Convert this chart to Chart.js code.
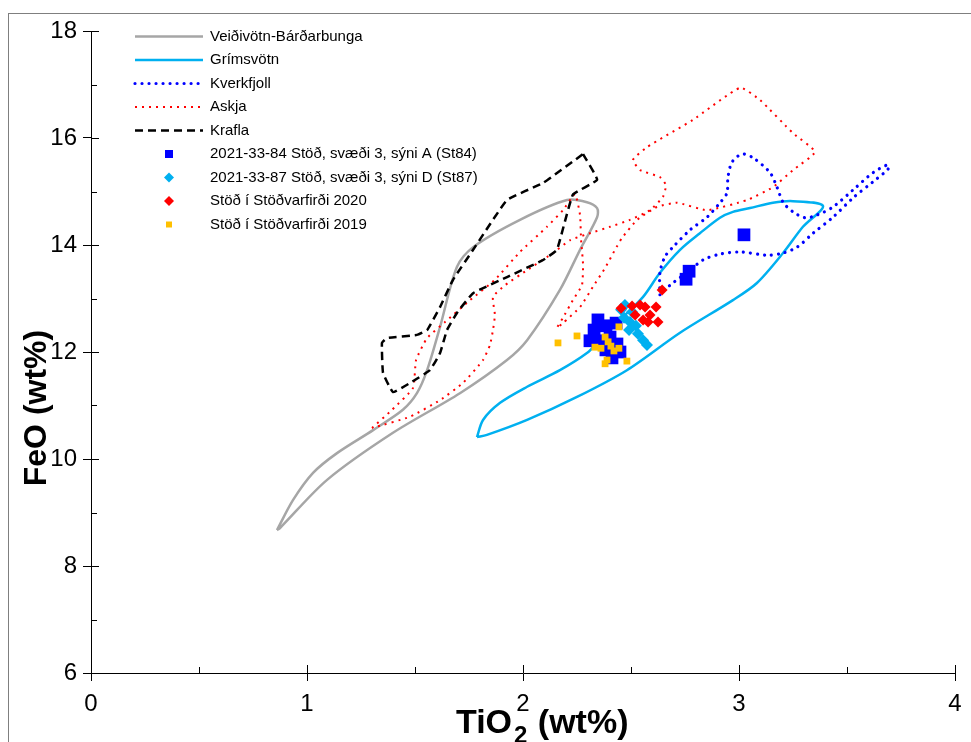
<!DOCTYPE html>
<html>
<head>
<meta charset="utf-8">
<script src="https://cdn.jsdelivr.net/npm/chart.js@4.4.0/dist/chart.umd.min.js"></script>
<style>
body{margin:0;background:#fff;}
#wrap{width:971px;height:742px;overflow:hidden;}
</style>
</head>
<body>
<div id="wrap"><canvas id="chart" width="971" height="742"></canvas></div>
<script>
// outlines of the volcanic systems (TiO2, FeO)
const veidiX = [0.861,0.935,1.028,1.139,1.306,1.444,1.509,1.556,1.616,1.694,1.769,1.986,2.204,2.296,2.343,2.343,2.264,2.171,2.019,1.926,1.708,1.398,1.093,0.875,0.861];
const veidiY = [8.67,9.23,9.74,10.11,10.54,10.92,11.23,11.66,12.47,13.59,13.96,14.47,14.84,14.80,14.69,14.52,13.91,13.16,12.22,11.85,11.23,10.49,9.61,8.71,8.67];

const grimsX = [1.787,1.833,2.019,2.250,2.481,2.727,2.972,3.083,3.204,3.296,3.389,3.250,3.157,3.051,2.972,2.912,2.819,2.727,2.634,2.556,2.449,2.356,2.296,2.171,2.019,1.894,1.815,1.787];
const grimsY = [10.41,10.45,10.73,11.16,11.66,12.36,12.97,13.29,13.85,14.34,14.73,14.82,14.79,14.69,14.62,14.51,14.22,13.91,13.48,13.03,12.60,12.22,11.98,11.66,11.35,11.05,10.73,10.41];

const kverkX = [2.634,2.634,2.657,2.694,2.773,2.852,2.912,2.944,2.949,2.968,3.014,3.065,3.144,3.176,3.204,3.250,3.306,3.361,3.435,3.528,3.620,3.690,3.690,3.620,3.528,3.435,3.343,3.269,3.204,3.130,3.005,2.912,2.833,2.773,2.694,2.634];
const kverkY = [13.07,13.48,13.78,13.96,14.28,14.52,14.79,14.97,15.27,15.55,15.70,15.63,15.35,15.08,14.80,14.62,14.51,14.56,14.71,15.03,15.35,15.50,15.42,15.18,14.88,14.52,14.22,13.96,13.85,13.81,13.87,13.83,13.72,13.53,13.29,13.10];

const askjaX = [1.301,1.394,1.491,1.505,1.556,1.639,1.755,1.870,1.986,2.111,2.185,2.241,2.264,2.269,2.278,2.273,2.231,2.185,2.157,2.185,2.264,2.324,2.380,2.426,2.458,2.528,2.620,2.713,2.852,3.037,3.157,3.250,3.352,3.250,3.097,3.005,2.787,2.574,2.509,2.542,2.634,2.662,2.648,2.588,2.495,2.403,2.310,2.218,2.139,2.019,1.917,1.861,1.870,1.861,1.847,1.815,1.722,1.616,1.477,1.301];
const askjaY = [10.58,10.92,11.33,11.85,12.26,12.56,12.97,13.35,13.87,14.34,14.65,14.95,14.56,14.09,13.63,13.25,12.97,12.64,12.45,12.54,12.84,13.22,13.57,13.91,14.13,14.47,14.71,14.79,14.65,14.84,15.08,15.40,15.74,16.09,16.71,16.94,16.34,15.83,15.59,15.40,15.27,15.12,14.90,14.65,14.47,14.34,14.22,14.09,13.85,13.53,13.25,13.03,12.69,12.41,12.13,11.85,11.42,11.10,10.79,10.58];

const kraflaX = [2.278,2.343,2.231,2.157,2.093,1.926,1.769,1.694,1.648,1.616,1.569,1.477,1.398,1.352,1.347,1.370,1.509,1.556,1.616,1.676,1.769,1.926,2.093,2.278];
const kraflaY = [15.70,15.22,14.94,13.91,13.72,13.40,13.10,12.73,12.41,11.98,11.66,11.42,11.25,11.61,12.17,12.26,12.32,12.41,12.84,13.35,13.91,14.84,15.16,15.70];

// glass analyses
const st84X = [2.347,2.384,2.431,2.329,2.310,2.361,2.403,2.384,2.412,2.449,2.435,2.755,2.769,3.023];
const st84Y = [12.60,12.49,12.54,12.41,12.21,12.21,12.28,12.04,11.89,12.00,12.15,13.36,13.51,14.19];

const st87X = [2.472,2.505,2.468,2.495,2.523,2.491,2.532,2.556,2.574,2.454];
const st87Y = [12.88,12.75,12.64,12.56,12.49,12.41,12.34,12.22,12.13,12.79];

const y2020X = [2.644,2.454,2.505,2.542,2.565,2.519,2.556,2.588,2.616,2.625,2.579];
const y2020Y = [13.16,12.82,12.86,12.88,12.84,12.69,12.60,12.69,12.84,12.56,12.56];

const y2019X = [2.162,2.250,2.333,2.380,2.394,2.407,2.421,2.444,2.444,2.361,2.389,2.380,2.481];
const y2019Y = [12.17,12.30,12.09,12.28,12.19,12.11,12.02,12.47,12.07,12.07,11.85,11.78,11.83];

const xTicks = [0, 1, 2, 3, 4];
const yTicks = [6, 8, 10, 12, 14, 16, 18];

const FONT = '"Liberation Sans", Arial, sans-serif';

function pts(xs, ys){
    return xs.map((x, i) => ({x: x, y: ys[i]}));
}

function outline(label, xs, ys, color, width, dash, cap, tension, order){
    return {
        label: label, data: pts(xs, ys), showLine: true,
        borderColor: color, backgroundColor: color, borderWidth: width,
        borderDash: dash, borderCapStyle: cap, tension: tension,
        pointRadius: 0, pointHoverRadius: 0, fill: false, order: order
    };
}

function markers(label, xs, ys, color, style, radius, order){
    return {
        label: label, data: pts(xs, ys), showLine: false,
        pointStyle: style, pointRadius: radius, pointHoverRadius: radius,
        backgroundColor: color, borderColor: color, borderWidth: 0, order: order
    };
}

const datasets = [
    outline('Veiðivötn-Bárðarbunga', veidiX, veidiY, '#a6a6a6', 2.5, [], 'butt', 0.3, 14),
    outline('Grímsvötn', grimsX, grimsY, '#00b0f0', 2.5, [], 'butt', 0.3, 13),
    outline('Kverkfjoll', kverkX, kverkY, '#0000ff', 3.2, [0.01, 7], 'round', 0.3, 12),
    outline('Askja', askjaX, askjaY, '#ff0000', 2, [2, 5], 'butt', 0.15, 11),
    outline('Krafla', kraflaX, kraflaY, '#000000', 2.5, [8, 5], 'butt', 0.1, 10),
    markers('2021-33-84 Stöð, svæði 3, sýni A (St84)', st84X, st84Y, '#0000ff', 'rect', 9, 3),
    markers('2021-33-87 Stöð, svæði 3, sýni D (St87)', st87X, st87Y, '#00b0f0', 'rectRot', 6, 2),
    markers('Stöð í Stöðvarfirði 2020', y2020X, y2020Y, '#ff0000', 'rectRot', 5.5, 1),
    markers('Stöð í Stöðvarfirði 2019', y2019X, y2019Y, '#ffc000', 'rect', 4.8, 0)
];

// frame, inner/minor ticks, axis titles and the legend inside the plot
const decorations = {
    id: 'decorations',
    beforeDraw(chart){
        const ctx = chart.ctx;
        ctx.save();
        ctx.strokeStyle = '#7f7f7f';
        ctx.lineWidth = 1;
        ctx.strokeRect(8.5, 13.5, 1200, 1200);
        ctx.restore();
    },
    afterDraw(chart){
        const ctx = chart.ctx;
        const xs = chart.scales.x, ys = chart.scales.y;
        const a = chart.chartArea;
        ctx.save();
        ctx.strokeStyle = '#000';
        ctx.lineWidth = 1;
        ctx.beginPath();
        xTicks.forEach(v => {
            const px = Math.round(xs.getPixelForValue(v)) + 0.5;
            ctx.moveTo(px, a.bottom); ctx.lineTo(px, a.bottom - 8);
        });
        for(let v = 0.5; v < 4; v++){
            const px = Math.round(xs.getPixelForValue(v)) + 0.5;
            ctx.moveTo(px, a.bottom); ctx.lineTo(px, a.bottom - 6);
        }
        yTicks.forEach(v => {
            const py = Math.round(ys.getPixelForValue(v)) + 0.5;
            ctx.moveTo(a.left, py); ctx.lineTo(a.left + 8, py);
        });
        for(let v = 7; v < 18; v += 2){
            const py = Math.round(ys.getPixelForValue(v)) + 0.5;
            ctx.moveTo(a.left, py); ctx.lineTo(a.left + 6, py);
        }
        ctx.stroke();

        // axis titles
        ctx.fillStyle = '#000';
        ctx.font = 'bold 32px ' + FONT;
        ctx.textBaseline = 'alphabetic';
        ctx.save();
        ctx.translate(46, 408);
        ctx.rotate(-Math.PI / 2);
        ctx.textAlign = 'center';
        ctx.fillText('FeO (wt%)', 0, 0);
        ctx.restore();

        ctx.textAlign = 'left';
        ctx.font = 'bold 34px ' + FONT;
        const w1 = ctx.measureText('TiO').width;
        const tx = 456;
        ctx.fillText('TiO', tx, 733);
        ctx.font = 'bold 24px ' + FONT;
        ctx.fillText('2', tx + w1 + 2, 743);
        const w2 = ctx.measureText('2').width;
        ctx.font = 'bold 34px ' + FONT;
        ctx.fillText(' (wt%)', tx + w1 + w2 + 3, 733);

        // legend
        ctx.font = '15px ' + FONT;
        ctx.textBaseline = 'middle';
        chart.data.datasets.forEach((ds, i) => {
            const y = 36.5 + i * 23.5;
            if(ds.showLine){
                ctx.save();
                ctx.strokeStyle = ds.borderColor;
                ctx.lineWidth = ds.borderWidth;
                ctx.lineCap = ds.borderCapStyle;
                ctx.setLineDash(ds.borderDash);
                ctx.beginPath();
                ctx.moveTo(135, y); ctx.lineTo(203, y);
                ctx.stroke();
                ctx.restore();
            } else {
                ctx.fillStyle = ds.backgroundColor;
                const r = ds.pointStyle === 'rect' ? (i === 8 ? 3 : 4) : 5;
                ctx.beginPath();
                if(ds.pointStyle === 'rect'){
                    ctx.rect(169 - r, y - r, 2 * r, 2 * r);
                } else {
                    ctx.moveTo(169, y - r); ctx.lineTo(169 + r, y);
                    ctx.lineTo(169, y + r); ctx.lineTo(169 - r, y);
                    ctx.closePath();
                }
                ctx.fill();
            }
            ctx.fillStyle = '#000';
            ctx.fillText(ds.label, 210, y);
        });
        ctx.restore();
    }
};

new Chart(document.getElementById('chart'), {
    type: 'scatter',
    data: {datasets: datasets},
    options: {
        responsive: false,
        animation: false,
        events: [],
        layout: {padding: {top: 31, right: 16, left: 0, bottom: 0}},
        plugins: {legend: {display: false}, tooltip: {enabled: false}},
        scales: {
            x: {
                type: 'linear', min: 0, max: 4,
                afterBuildTicks(s){ s.ticks = xTicks.map(v => ({value: v})); },
                afterFit(s){ s.height = 69; },
                ticks: {color: '#000', font: {size: 24, family: FONT}, padding: 9, maxRotation: 0},
                grid: {drawOnChartArea: false, drawTicks: true, tickLength: 8, color: '#000'},
                border: {display: true, color: '#000', width: 1}
            },
            y: {
                type: 'linear', min: 6, max: 18,
                afterBuildTicks(s){ s.ticks = yTicks.map(v => ({value: v})); },
                afterFit(s){ s.width = 91; },
                ticks: {color: '#000', font: {size: 24, family: FONT}, padding: 6},
                grid: {drawOnChartArea: false, drawTicks: true, tickLength: 8, color: '#000'},
                border: {display: true, color: '#000', width: 1}
            }
        }
    },
    plugins: [decorations]
});
</script>
</body>
</html>
